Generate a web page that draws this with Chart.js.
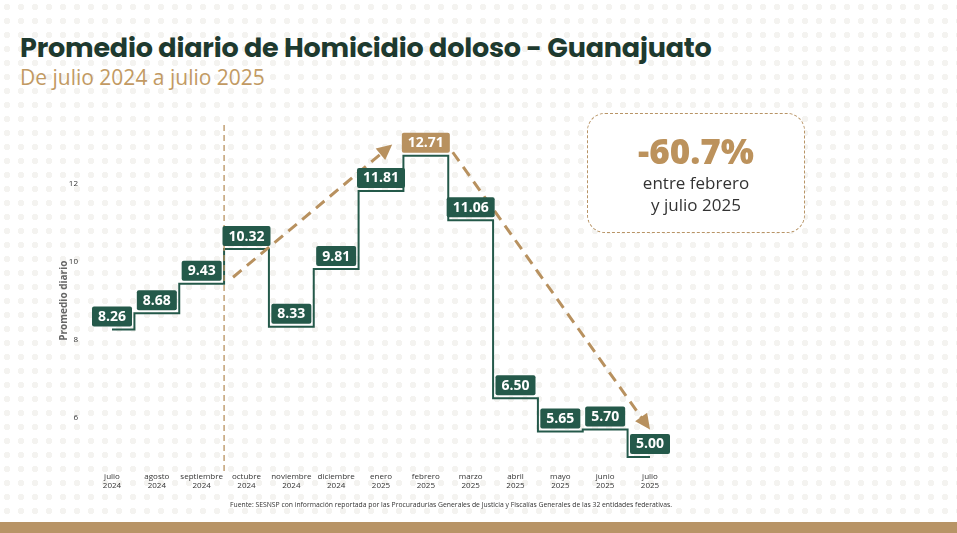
<!DOCTYPE html>
<html><head><meta charset="utf-8">
<script src="https://cdn.jsdelivr.net/npm/chart.js@4"></script>
<style>
body{margin:0;width:957px;height:533px;overflow:hidden;background:#fff;font-family:"Open Sans",sans-serif;position:relative;
background-image:radial-gradient(circle,#f4f3f0 3px,transparent 3.5px);background-size:14px 14px;}
#t{position:absolute;left:20px;top:28px;font:700 27px Poppins,"Open Sans",sans-serif;color:#1e3a2f;letter-spacing:-0.2px}
#s{position:absolute;left:20px;top:63px;font:400 21px "Open Sans",sans-serif;color:#c29a63}
#box{position:absolute;left:587px;top:113px;width:216px;height:118px;border:1.5px dashed #b89466;border-radius:18px;background:#fff;text-align:center}
#box .p{font:800 35px "Open Sans",sans-serif;color:#bc925c;margin-top:16px;line-height:42px}
#box .d{font:400 17px "Open Sans",sans-serif;color:#333;line-height:22px}
#f{position:absolute;left:230px;top:500px;font:400 6.8px "Open Sans",sans-serif;color:#333}
#bar{position:absolute;left:0;top:522px;width:957px;height:11px;background:#b89466}
canvas{position:absolute;left:0;top:0}
</style></head><body>
<div id="t">Promedio diario de Homicidio doloso - Guanajuato</div>
<div id="s">De julio 2024 a julio 2025</div>
<canvas id="c" width="957" height="533"></canvas>
<div id="box"><div class="p">-60.7%</div><div class="d">entre febrero<br>y julio 2025</div></div>
<div id="f">Fuente: SESNSP con información reportada por las Procuradurías Generales de Justicia y Fiscalías Generales de las 32 entidades federativas.</div>
<div id="bar"></div>
<script>
const months=["julio","agosto","septiembre","octubre","noviembre","diciembre","enero","febrero","marzo","abril","mayo","junio","julio"];
const years=["2024","2024","2024","2024","2024","2024","2025","2025","2025","2025","2025","2025","2025"];
const values=[8.26,8.68,9.43,10.32,8.33,9.81,11.81,12.71,11.06,6.50,5.65,5.70,5.00];
const yTicks=[6,8,10,12];
const green="#24594a",tan="#b8915f";
const deco={id:'deco',afterDatasetsDraw(ch){
 const c=ch.ctx,x=ch.scales.x,y=ch.scales.y;
 c.save();
 c.fillStyle="#666";c.font="700 10px 'Open Sans',sans-serif";c.textAlign="center";c.textBaseline="middle";
 c.save();c.translate(64,y.getPixelForValue(9));c.rotate(-Math.PI/2);c.fillText("Promedio diario",0,0);c.restore();
 c.strokeStyle=tan;c.lineWidth=1.3;c.setLineDash([6,4]);
 const vx=(x.getPixelForValue(2)+x.getPixelForValue(3))/2;
 c.beginPath();c.moveTo(vx,y.getPixelForValue(13.5));c.lineTo(vx,y.bottom+12);c.stroke();
 function arrow(x1,y1,x2,y2){
  const X1=x.getPixelForValue(x1),Y1=y.getPixelForValue(y1),X2=x.getPixelForValue(x2),Y2=y.getPixelForValue(y2);
  const a=Math.atan2(Y2-Y1,X2-X1),h=17;
  c.strokeStyle=tan;c.lineWidth=3;c.setLineDash([11,7]);
  c.beginPath();c.moveTo(X1,Y1);c.lineTo(X2-h*0.8*Math.cos(a),Y2-h*0.8*Math.sin(a));c.stroke();
  c.setLineDash([]);c.fillStyle=tan;c.beginPath();
  c.moveTo(X2,Y2);c.lineTo(X2-h*Math.cos(a-0.45),Y2-h*Math.sin(a-0.45));c.lineTo(X2-h*Math.cos(a+0.45),Y2-h*Math.sin(a+0.45));c.closePath();c.fill();
 }
 arrow(2.7,9.6,6.25,13.0);
 arrow(7.6,12.8,12.0,5.7);
 c.setLineDash([]);
 c.font="700 14px 'Open Sans',sans-serif";
 values.forEach((v,i)=>{
  const px=x.getPixelForValue(i),py=y.getPixelForValue(v);
  const t=v.toFixed(2),w=c.measureText(t).width+12,hh=20;
  c.fillStyle=i===7?tan:green;
  c.beginPath();c.roundRect(px-w/2,py-hh-3,w,hh,2);c.fill();
  c.fillStyle="#fff";c.fillText(t,px,py-3-hh/2+0.5);
 });
 c.restore();
}};
new Chart(document.getElementById('c'),{type:'line',
 data:{labels:months.map((m,i)=>[m,years[i]]),datasets:[{data:values,stepped:'middle',borderColor:green,borderWidth:2,pointRadius:0,fill:false}]},
 options:{responsive:false,animation:false,
  layout:{padding:{left:52,right:307,top:121,bottom:39}},
  plugins:{legend:{display:false},tooltip:{enabled:false}},
  scales:{
   x:{offset:false,grid:{display:false},border:{display:false},ticks:{maxRotation:0,autoSkip:false,font:{size:8,family:"'Open Sans'"},color:'#333',padding:3}},
   y:{min:4.9,max:13.6,grid:{display:false},border:{display:false},
     afterFit(s){s.width=60;},
     afterBuildTicks(s){s.ticks=yTicks.map(v=>({value:v}));},
     ticks:{font:{size:8,family:"'Open Sans'"},color:'#333',padding:26}}
  }},
 plugins:[deco]});
</script>
</body></html>
